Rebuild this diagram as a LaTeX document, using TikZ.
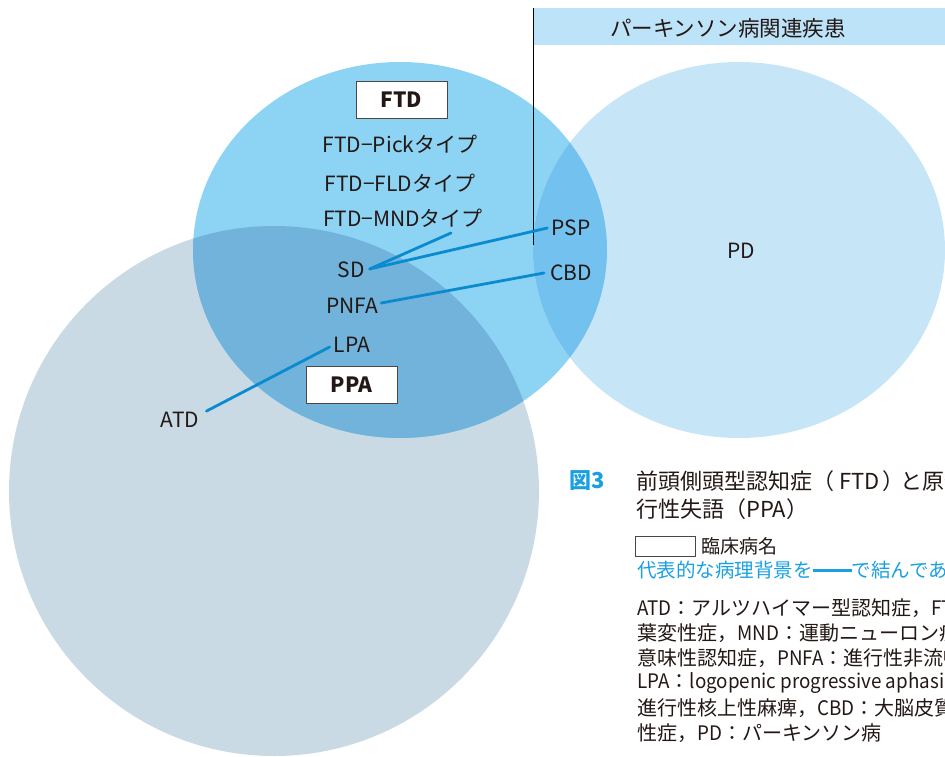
\documentclass[tikz,border=0pt]{standalone}
\usepackage{fontspec}
\usetikzlibrary{calc}
\setmainfont{Noto Sans CJK JP}
\newfontfamily\latc[FakeStretch=0.94]{Noto Sans CJK JP}
\newcommand{\lc}[1]{{\latc #1}}
\definecolor{atdc}{HTML}{C9DAE5}
\definecolor{ftdc}{HTML}{8DD3F4}
\definecolor{pdc}{HTML}{C6E6F8}
\definecolor{ovA}{HTML}{71B3DA}
\definecolor{ovB}{HTML}{72C1EF}
\definecolor{bandc}{HTML}{BDE3F8}
\definecolor{linkc}{HTML}{0A8BD0}
\definecolor{txt}{HTML}{231815}
\definecolor{capblue}{HTML}{1AA0E0}
\tikzset{
  lab/.style={font=\fontsize{21}{21}\selectfont, text=txt, inner sep=2pt},
  namebox/.style={draw=txt!80, line width=0.9pt, fill=white, minimum width=91, minimum height=37, inner sep=0pt, font=\fontsize{21}{21}\selectfont\bfseries, text=txt},
  link/.style={draw=linkc, line width=2.8pt, line cap=round},
  body/.style={font=\fontsize{20}{20}\selectfont, text=txt, anchor=west, inner sep=0pt},
  captxt/.style={font=\fontsize{22}{22}\selectfont, text=txt, anchor=west, inner sep=0pt},
}
\begin{document}
\begin{tikzpicture}[x=1pt,y=-1pt]
\useasboundingbox (0,0) rectangle (945,757);
\clip (0,0) rectangle (945,757);
% circles
\fill[atdc] (274,491) circle (265);
\fill[ftdc] (400,250) ellipse [x radius=207, y radius=188];
\fill[pdc] (739,250) ellipse [x radius=206, y radius=188];
\begin{scope}
  \clip (274,491) circle (265);
  \fill[ovA] (400,250) ellipse [x radius=207, y radius=188];
\end{scope}
\begin{scope}
  \clip (739,250) ellipse [x radius=206, y radius=188];
  \fill[ovB] (400,250) ellipse [x radius=207, y radius=188];
\end{scope}
% header
\fill[bandc] (533,8) rectangle (945,45);
\draw[black, line width=0.8pt] (533,8) -- (533,245);
\node[font=\fontsize{21.5}{21.5}\selectfont, text=txt] (hdr) at (728,28) {パーキンソン病関連疾患};
% labels
\node[namebox] (ftd) at (401.5,100) {FTD};
\node[lab] (pick) at (400,144) {FTD−Pickタイプ};
\node[lab] (fld) at (400,183) {FTD−FLDタイプ};
\node[lab] (mnd) at (403,218) {FTD−MNDタイプ};
\node[lab] (sd) at (351,270) {SD};
\node[lab] (pnfa) at (352,306) {PNFA};
\node[lab] (lpa) at (352,345) {LPA};
\node[namebox] (ppa) at (351.5,384.5) {PPA};
\node[lab] (atd) at (180,420) {ATD};
\node[lab] (psp) at (571,228) {PSP};
\node[lab] (cbd) at (571,273) {CBD};
\node[lab] (pd) at (741,251) {PD};
% connectors
\coordinate (mndend) at (451,233);
\draw[link] ($(sd.east)+(3,-1)$) -- (mndend);
\draw[link] ($(sd.east)+(3,-1)$) -- ($(psp.west)+(-2,0)$);
\draw[link] ($(pnfa.east)+(1,-3)$) -- ($(cbd.west)+(-4,0)$);
\draw[link] ($(lpa.west)+(-2,2)$) -- ($(atd.north east)+(5,1)$);
% caption
\node[font=\fontsize{22}{22}\selectfont\bfseries, text=capblue, anchor=west, inner sep=0pt] (fig) at (569,481) {図3};
\node[captxt] (t1) at (636,481) {前頭側頭型認知症（\kern5pt FTD\kern3pt）\kern-4pt と原発性進};
\node[captxt] (t2) at (636,509) {行性失語（PPA）};
\node[draw=txt!80, line width=0.9pt, minimum width=60, minimum height=20, inner sep=0pt] (legbox) at (665,546) {};
\node[font=\fontsize{19}{19}\selectfont, text=txt, anchor=west, inner sep=0pt] (legt) at (701,546) {臨床病名};
\node[font=\fontsize{19.5}{19.5}\selectfont, text=capblue, anchor=west, inner sep=0pt] (legl) at (637,570) {代表的な病理背景を\rule[0.3em]{2em}{2.5pt}で結んである};
\node[body] (b1) at (637,608) {\lc{ATD}：アルツハイマー型認知症，\lc{FTLD}：前頭側頭};
\node[body] (b2) at (637,633) {葉変性症，\lc{MND}：運動ニューロン疾患，\lc{SD}：};
\node[body] (b3) at (637,658) {意味性認知症，\lc{PNFA}：進行性非流暢性失語，};
\node[body] (b4) at (637,683) {\lc{LPA}：\lc{logopenic progressive aphasia}，\lc{PSP}：};
\node[body] (b5) at (637,708) {進行性核上性麻痺，\lc{CBD}：大脳皮質基底核変};
\node[body] (b6) at (637,733) {性症，\lc{PD}：パーキンソン病};
\end{tikzpicture}
\end{document}
